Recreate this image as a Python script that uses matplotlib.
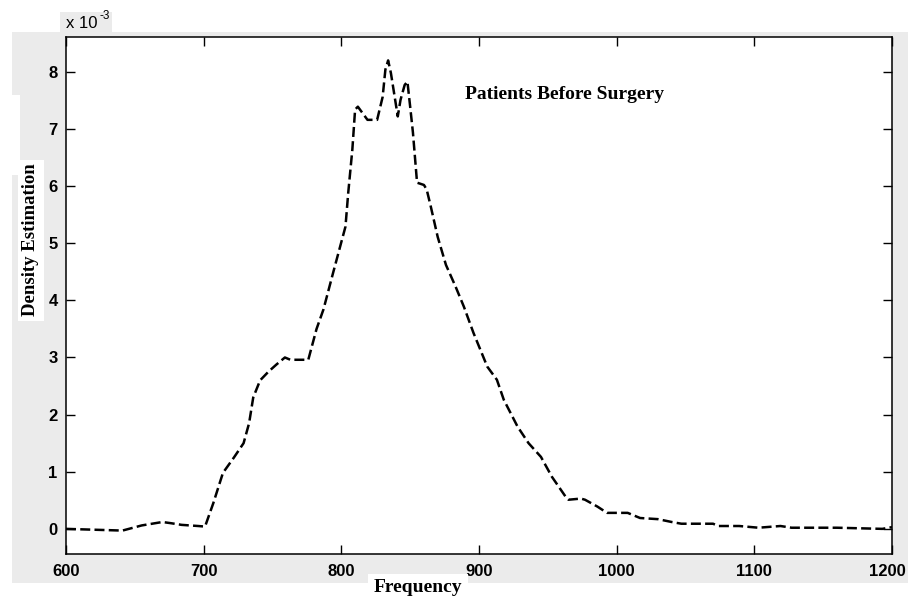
import matplotlib.pyplot as plt
from matplotlib.patches import Rectangle
from matplotlib.transforms import ScaledTranslation

# kernel density estimate, density in units of 1e-3
freq = [600, 641, 655, 670, 676, 684, 696, 701, 707, 714, 722, 729, 733, 736,
        741, 747, 753, 759, 763, 776, 782, 787, 794, 803, 805, 808, 810, 812,
        819, 826, 830, 832, 834, 836, 841, 843, 846, 848, 850, 852, 855, 860,
        862, 865, 870, 876, 883, 889, 896, 906, 913, 918, 928, 936, 945, 953,
        963, 965, 974, 977, 986, 993, 1008, 1017, 1030, 1040, 1047, 1070, 1074,
        1089, 1103, 1119, 1127, 1160, 1193, 1200]
density = [0.0, -0.03, 0.06, 0.12, 0.10, 0.07, 0.05, 0.04, 0.45, 0.98, 1.25,
           1.5, 1.85, 2.3, 2.6, 2.75, 2.88, 3.0, 2.96, 2.96, 3.5, 3.84, 4.48,
           5.29, 5.88, 6.64, 7.34, 7.39, 7.16, 7.16, 7.56, 8.04, 8.2, 7.98,
           7.22, 7.51, 7.77, 7.83, 7.39, 6.94, 6.06, 6.02, 5.94, 5.64, 5.11,
           4.62, 4.24, 3.89, 3.43, 2.84, 2.61, 2.26, 1.79, 1.5, 1.26, 0.91,
           0.56, 0.51, 0.53, 0.51, 0.39, 0.28, 0.28, 0.19, 0.17, 0.12, 0.09,
           0.09, 0.05, 0.05, 0.02, 0.05, 0.02, 0.02, 0.0, 0.03]

xticks = [600, 700, 800, 900, 1000, 1100, 1200]
yticks = [0, 1, 2, 3, 4, 5, 6, 7, 8]

W, H = 908, 600
fig = plt.figure(figsize=(W / 100, H / 100), dpi=100)
fig.patch.set_facecolor('white')

gray = '#ebebeb'


def bg_rect(x0, y0, x1, y1, color):
    # rectangle given in pixels, origin at top-left
    fig.patches.append(Rectangle((x0 / W, 1 - y1 / H), (x1 - x0) / W,
                                 (y1 - y0) / H, transform=fig.transFigure,
                                 facecolor=color, edgecolor='none',
                                 zorder=-10))


# grey window background
bg_rect(12, 32, W, 583, gray)
bg_rect(60, 12, 112, 37, gray)
bg_rect(0, 95, 20, 175, 'white')

ax = fig.add_axes([66 / W, 1 - 554 / H, (892 - 66) / W, (554 - 37) / H])
ax.set_zorder(1)
ax.set_facecolor('white')
ax.plot(freq, density, color='black', linewidth=1.8, linestyle=(0, (4, 1.7)))

ax.set_xlim(600, 1200)
ax.set_ylim(-0.44, 8.61)
ax.set_xticks(xticks)
ax.set_yticks(yticks)

tick_font = dict(family='Liberation Sans', weight='bold', size=12)
ax.set_xticklabels([str(t) for t in xticks], fontdict=tick_font)
ax.set_yticklabels([str(t) for t in yticks], fontdict=tick_font)
ax.tick_params(direction='in', length=6.5, width=1, top=True, right=True,
               pad=6, color='black')
ax.tick_params(axis='x', pad=7)
for s in ax.spines.values():
    s.set_linewidth(1.1)

# nudge the last x label so it stays inside the figure
last = ax.get_xticklabels()[-1]
last.set_transform(last.get_transform() +
                   ScaledTranslation(-5 / 100, 0, fig.dpi_scale_trans))

# exponent label above the y axis
fig.text(66 / W, 1 - 28 / H, 'x 10', family='Liberation Sans', size=12,
         va='baseline', ha='left')
fig.text(100 / W, 1 - 19 / H, '-3', family='Liberation Sans', size=8.5,
         va='baseline', ha='left')

ax.text(0.483, 0.888, 'Patients Before Surgery', transform=ax.transAxes,
        family='Liberation Serif', weight='bold', size=14, ha='left',
        va='center')

fig.text(418 / W, 1 - 588 / H, 'Frequency', family='Liberation Serif',
         weight='bold', size=14, ha='center', va='center',
         bbox=dict(facecolor='white', edgecolor='none', pad=4))
fig.text(31 / W, 1 - 240 / H, 'Density Estimation', family='Liberation Serif',
         weight='bold', size=13.5, ha='center', va='center', rotation=90,
         bbox=dict(facecolor='white', edgecolor='none', pad=3))

fig.savefig('out.png', dpi=100, facecolor=fig.get_facecolor())
